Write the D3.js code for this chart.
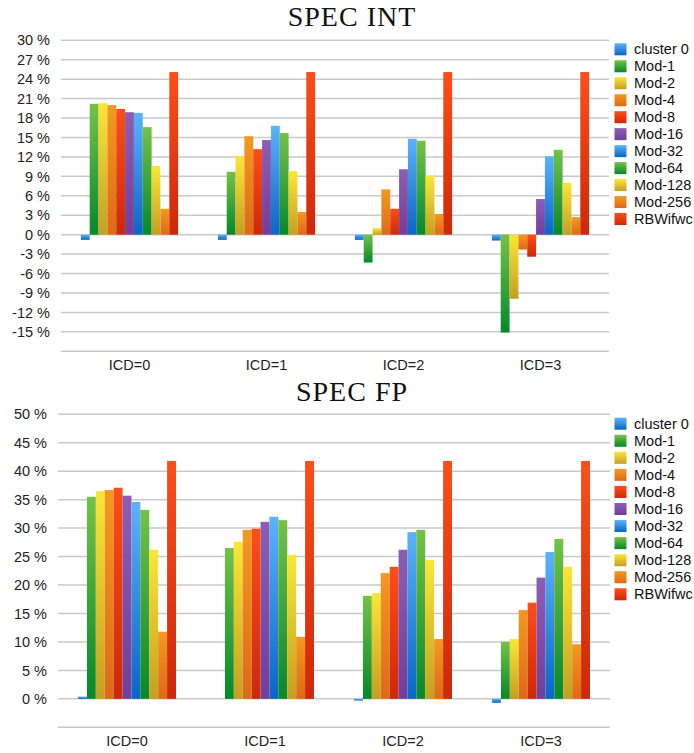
<!DOCTYPE html>
<html><head><meta charset="utf-8">
<script src="https://cdn.jsdelivr.net/npm/d3@7"></script>
<style>body{margin:0;background:#fff} svg{display:block}</style>
</head><body><svg id="c" width="694" height="753"></svg>
<script>
const categories = ["ICD=0", "ICD=1", "ICD=2", "ICD=3"];
const seriesNames = ["cluster 0","Mod-1","Mod-2","Mod-4","Mod-8","Mod-16","Mod-32","Mod-64","Mod-128","Mod-256","RBWifwc"];

// SPEC INT values (%) per category, in series order
const intICD0 = [-0.8, 20.2, 20.3, 20.0, 19.4, 18.9, 18.8, 16.6, 10.6, 4.0, 25.1];
const intICD1 = [-0.8, 9.7, 12.1, 15.2, 13.2, 14.6, 16.8, 15.7, 9.8, 3.5, 25.1];
const intICD2 = [-0.8, -4.3, 1.0, 7.0, 4.0, 10.1, 14.8, 14.5, 9.1, 3.2, 25.1];
const intICD3 = [-0.9, -15.1, -9.9, -2.3, -3.4, 5.5, 12.1, 13.1, 8.0, 2.7, 25.1];
const intTicks = [-15, -12, -9, -6, -3, 0, 3, 6, 9, 12, 15, 18, 21, 24, 27, 30];

// SPEC FP values (%)
const fpICD0 = [0.4, 35.5, 36.5, 36.7, 37.1, 35.7, 34.6, 33.2, 26.2, 11.8, 41.8];
const fpICD1 = [0.0, 26.5, 27.6, 29.7, 29.9, 31.1, 32.0, 31.4, 25.3, 10.9, 41.8];
const fpICD2 = [-0.3, 18.1, 18.6, 22.1, 23.2, 26.2, 29.3, 29.7, 24.4, 10.5, 41.8];
const fpICD3 = [-0.7, 10.0, 10.5, 15.6, 16.9, 21.3, 25.8, 28.1, 23.2, 9.6, 41.8];
const fpTicks = [0, 5, 10, 15, 20, 25, 30, 35, 40, 45, 50];

// palette (top, bottom) per series
const palette = [
  ["#5cb2fb", "#0a65c5"], ["#74c246", "#05882b"], ["#fbe637", "#c49f22"],
  ["#f3991f", "#de6917"], ["#fc4e18", "#cd2809"], ["#8d5db4", "#713e9b"],
  ["#5cb2fb", "#0a65c5"], ["#74c246", "#05882b"], ["#fbe637", "#c49f22"],
  ["#f3991f", "#de6917"], ["#fc4e18", "#cd2809"]
];

const svg = d3.select("#c");
const defs = svg.append("defs");
palette.forEach((p, i) => {
  const g = defs.append("linearGradient").attr("id", "g" + i)
    .attr("x1", 0).attr("y1", 0).attr("x2", 0).attr("y2", 1);
  g.append("stop").attr("offset", "0%").attr("stop-color", p[0]);
  g.append("stop").attr("offset", "100%").attr("stop-color", p[1]);
});

const sans = "'Liberation Sans', Arial, Helvetica, sans-serif";

function drawChart(cfg) {
  const g = svg.append("g");
  const x0 = d3.scaleBand().domain(categories).range([cfg.left, cfg.right])
    .paddingInner(0.29).paddingOuter(0.145);
  const x1 = d3.scaleBand().domain(d3.range(seriesNames.length)).range([0, x0.bandwidth()]);
  const y = d3.scaleLinear().domain(cfg.domain).range([cfg.bottom, cfg.top]);

  // title
  g.append("text").attr("x", 352).attr("y", cfg.titleY).attr("text-anchor", "middle")
    .style("font-family", "'Liberation Serif', 'Times New Roman', serif")
    .style("font-size", "28px").style("letter-spacing", "1px")
    .attr("fill", "#111").text(cfg.title);

  // gridlines (including bottom line)
  const gridVals = [cfg.domain[0]].concat(cfg.ticks);
  g.selectAll(".grid").data(gridVals).enter().append("line")
    .attr("x1", cfg.left).attr("x2", cfg.right)
    .attr("y1", d => y(d)).attr("y2", d => y(d))
    .attr("stroke", "#c9c9c9").attr("stroke-width", 1.5);

  // y axis labels
  const yAxis = d3.axisLeft(y).tickValues(cfg.ticks).tickSize(0).tickPadding(0)
    .tickFormat(d => d + " %");
  const ya = g.append("g").attr("transform", `translate(${cfg.labelX},0)`).call(yAxis);
  ya.select(".domain").remove();
  ya.selectAll("text").style("font-family", sans).style("font-size", "14.5px").attr("fill", "#222");

  // x axis labels
  const xAxis = d3.axisBottom(x0).tickSize(0).tickPadding(0);
  const xa = g.append("g").attr("transform", `translate(0,${cfg.xLabelY})`).call(xAxis);
  xa.select(".domain").remove();
  xa.selectAll("text").style("font-family", sans).style("font-size", "14.5px").attr("fill", "#222");

  // bars
  cfg.values.forEach((vals, ci) => {
    const gg = g.append("g").attr("transform", `translate(${x0(categories[ci])},0)`);
    gg.selectAll("rect").data(vals.map((v, si) => ({v, si}))).enter().append("rect")
      .attr("x", d => x1(d.si)).attr("width", x1.bandwidth())
      .attr("y", d => y(Math.max(0, d.v)))
      .attr("height", d => Math.abs(y(d.v) - y(0)))
      .attr("fill", d => `url(#g${d.si})`);
  });

  // legend
  const lg = g.append("g");
  seriesNames.forEach((name, i) => {
    const cy = cfg.legendY + i * cfg.legendStep;
    lg.append("rect").attr("x", 614.5).attr("y", cy - 6).attr("width", 12).attr("height", 12)
      .attr("fill", `url(#g${i})`);
    lg.append("text").attr("x", 634).attr("y", cy).attr("dy", "0.35em")
      .style("font-family", sans).style("font-size", "14.5px").attr("fill", "#111").text(name);
  });
}

drawChart({
  title: "SPEC INT", titleY: 26,
  left: 61, right: 609, top: 40.3, bottom: 351.3,
  domain: [-18, 30], ticks: intTicks, labelX: 50,
  xLabelY: 360, values: [intICD0, intICD1, intICD2, intICD3],
  legendY: 49.3, legendStep: 16.97
});
drawChart({
  title: "SPEC FP", titleY: 400.5,
  left: 58, right: 610, top: 414.3, bottom: 727.3,
  domain: [-5, 50], ticks: fpTicks, labelX: 47,
  xLabelY: 736, values: [fpICD0, fpICD1, fpICD2, fpICD3],
  legendY: 423.7, legendStep: 17.06
});
</script>
</body></html>
